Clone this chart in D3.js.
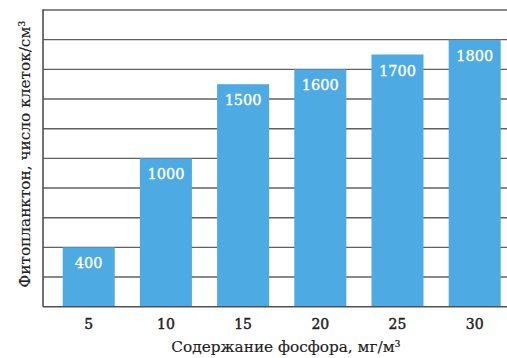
<!DOCTYPE html>
<html><head><meta charset="utf-8">
<script src="https://cdn.jsdelivr.net/npm/d3@7"></script>
<style>html,body{margin:0;padding:0;background:#fff;}svg{display:block;}</style>
</head><body>
<svg id="c" width="507" height="358"></svg>
<script>
const categories = ["5", "10", "15", "20", "25", "30"];
const values = [400, 1000, 1500, 1600, 1700, 1800];
const yTicks = [0, 200, 400, 600, 800, 1000, 1200, 1400, 1600, 1800, 2000];
const xTitle = "Содержание фосфора, мг/м³";
const yTitle = "Фитопланктон, число клеток/см³";

(function () {
const svg = d3.select("#c");
const pLeft = 43, pRight = 507, pTop = 10, pBottom = 306.7;
const font = "'DejaVu Serif', serif";

const y = d3.scaleLinear().domain([0, 2000]).range([pBottom, pTop]);
const x = d3.scaleBand().domain(categories).range([62.7, 500.7]).paddingInner(0.326).paddingOuter(0);

// gridlines
svg.append("g").selectAll("line").data(yTicks.slice(1)).join("line")
  .attr("x1", pLeft).attr("x2", pRight)
  .attr("y1", d => y(d)).attr("y2", d => y(d))
  .attr("stroke", "#606060").attr("stroke-width", 1.4);

// bars
svg.append("g").selectAll("rect").data(values).join("rect")
  .attr("x", (d, i) => x(categories[i]))
  .attr("width", x.bandwidth())
  .attr("y", d => y(d))
  .attr("height", d => y(0) - y(d))
  .attr("fill", "#4eaae2");

// bar labels
svg.append("g").selectAll("text").data(values).join("text")
  .attr("x", (d, i) => x(categories[i]) + x.bandwidth() / 2)
  .attr("y", d => y(d) + 21)
  .attr("text-anchor", "middle")
  .attr("font-family", font).attr("font-size", 14.5)
  .attr("fill", "#fff").attr("stroke", "#fff").attr("stroke-width", 0.35)
  .text(d => d);

// axes lines
svg.append("line").attr("x1", pLeft).attr("x2", pLeft).attr("y1", pTop - 0.7).attr("y2", pBottom)
  .attr("stroke", "#505050").attr("stroke-width", 1.6);
svg.append("line").attr("x1", pLeft).attr("x2", pRight).attr("y1", pBottom).attr("y2", pBottom)
  .attr("stroke", "#505050").attr("stroke-width", 1.6);

// x tick labels via axis
const xAxis = svg.append("g").attr("transform", `translate(0,${pBottom})`)
  .call(d3.axisBottom(x).tickSize(0).tickPadding(12));
xAxis.select(".domain").remove();
xAxis.selectAll("text").attr("font-family", font).attr("font-size", 14)
  .attr("fill", "#222").attr("stroke", "#222").attr("stroke-width", 0.45);

// titles
svg.append("text").attr("x", 286).attr("y", 352)
  .attr("text-anchor", "middle").attr("font-family", font).attr("font-size", 15.3)
  .attr("fill", "#222").attr("stroke", "#222").attr("stroke-width", 0.15).text(xTitle);
svg.append("text").attr("transform", "translate(30,154) rotate(-90)")
  .attr("text-anchor", "middle").attr("font-family", font).attr("font-size", 15.3)
  .attr("fill", "#222").attr("stroke", "#222").attr("stroke-width", 0.15).text(yTitle);
})();
</script>
</body></html>
